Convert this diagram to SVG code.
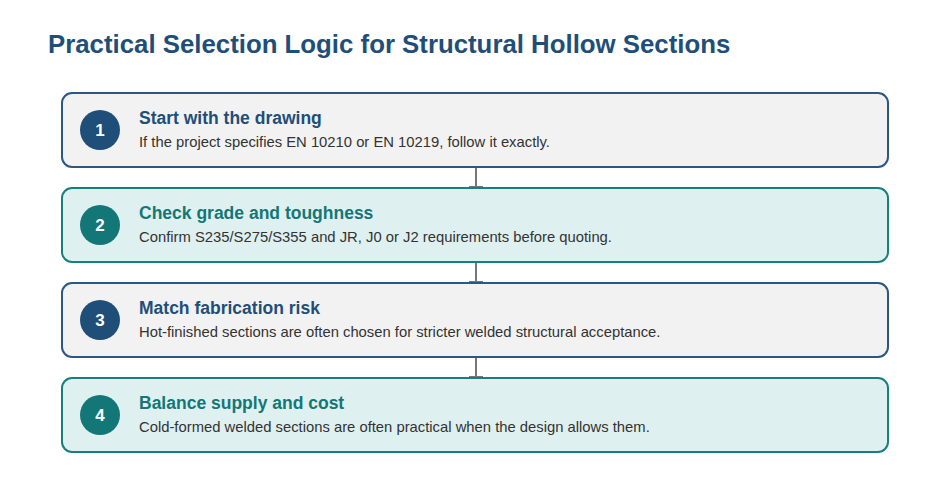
<svg xmlns="http://www.w3.org/2000/svg" width="951" height="489" viewBox="0 0 951 489">
<defs>
<style>
.title{font-family:"Liberation Sans",Arial,sans-serif;font-weight:bold;font-size:25.8px;fill:#1f4e79}
.box-a{fill:#f2f2f2;stroke:#2b5883;stroke-width:2}
.box-b{fill:#dff0f0;stroke:#17807f;stroke-width:2}
.circ-a{fill:#1f4e79}
.circ-b{fill:#137777}
.num{font-family:"Liberation Sans",Arial,sans-serif;font-weight:bold;font-size:17px;fill:#ffffff;text-anchor:middle}
.head-a{font-family:"Liberation Sans",Arial,sans-serif;font-weight:bold;font-size:17.5px;fill:#1f4e79}
.head-b{font-family:"Liberation Sans",Arial,sans-serif;font-weight:bold;font-size:17.5px;fill:#137777}
.desc{font-family:"Liberation Sans",Arial,sans-serif;font-size:14.8px;fill:#333333}
.conn{stroke:#777777;stroke-width:2;fill:none}
</style>
</defs>
<rect width="951" height="489" fill="#ffffff"/>
<text class="title" x="48" y="53">Practical Selection Logic for Structural Hollow Sections</text>
<g id="connectors">
<line class="conn" x1="476" y1="168" x2="476" y2="187"/>
<line class="conn" x1="469" y1="187" x2="483" y2="187"/>
<line class="conn" x1="476" y1="263" x2="476" y2="282"/>
<line class="conn" x1="469" y1="282" x2="483" y2="282"/>
<line class="conn" x1="476" y1="358" x2="476" y2="377"/>
<line class="conn" x1="469" y1="377" x2="483" y2="377"/>
</g>
<g id="step1">
<rect class="box-a" x="62" y="93" width="826" height="74" rx="10"/>
<circle class="circ-a" cx="100" cy="130" r="20"/>
<text class="num" x="100" y="136">1</text>
<text class="head-a" x="139" y="124">Start with the drawing</text>
<text class="desc" x="139" y="147">If the project specifies EN 10210 or EN 10219, follow it exactly.</text>
</g>
<g id="step2">
<rect class="box-b" x="62" y="188" width="826" height="74" rx="10"/>
<circle class="circ-b" cx="100" cy="225" r="20"/>
<text class="num" x="100" y="231">2</text>
<text class="head-b" x="139" y="219">Check grade and toughness</text>
<text class="desc" x="139" y="242">Confirm S235/S275/S355 and JR, J0 or J2 requirements before quoting.</text>
</g>
<g id="step3">
<rect class="box-a" x="62" y="283" width="826" height="74" rx="10"/>
<circle class="circ-a" cx="100" cy="320" r="20"/>
<text class="num" x="100" y="326">3</text>
<text class="head-a" x="139" y="314">Match fabrication risk</text>
<text class="desc" x="139" y="337">Hot-finished sections are often chosen for stricter welded structural acceptance.</text>
</g>
<g id="step4">
<rect class="box-b" x="62" y="378" width="826" height="74" rx="10"/>
<circle class="circ-b" cx="100" cy="415" r="20"/>
<text class="num" x="100" y="421">4</text>
<text class="head-b" x="139" y="409">Balance supply and cost</text>
<text class="desc" x="139" y="432">Cold-formed welded sections are often practical when the design allows them.</text>
</g>
</svg>
